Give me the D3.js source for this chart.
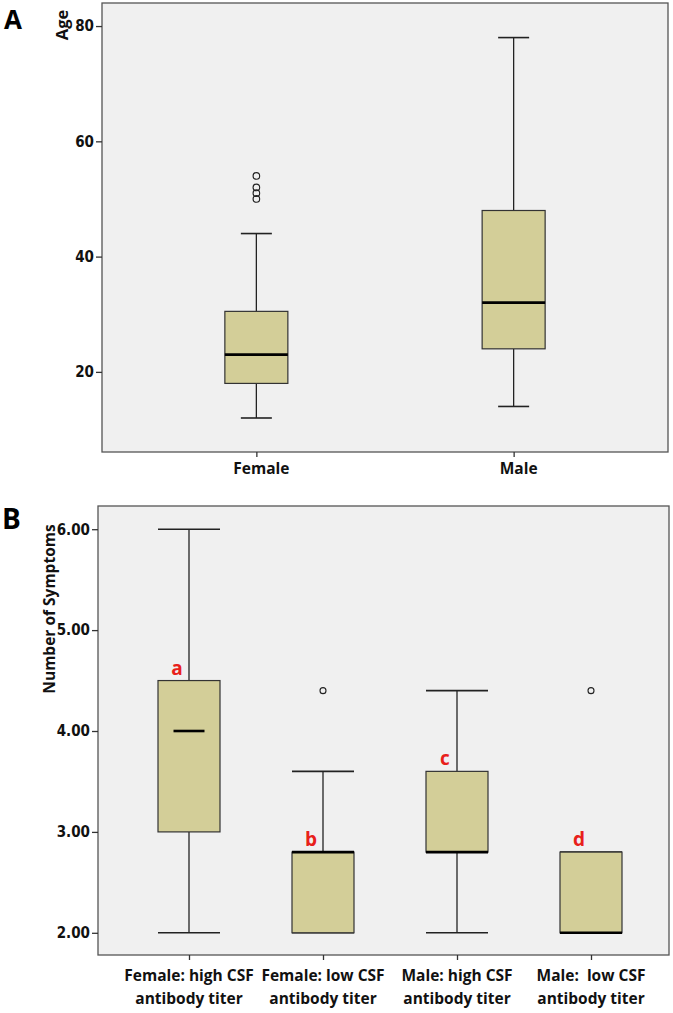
<!DOCTYPE html>
<html>
<head>
<meta charset="utf-8">
<script src="https://cdn.jsdelivr.net/npm/d3@7"></script>
<style>
  html, body { margin: 0; padding: 0; background: #fff; }
  svg { display: block; }
  .tick-label { font-family: 'Liberation Sans Narrow', 'Arial Narrow', 'DejaVu Sans Condensed', sans-serif; font-weight: bold; font-size: 15px; fill: #111; }
  .cat-label { font-family: 'Open Sans', 'Noto Sans', sans-serif; font-weight: bold; fill: #111; white-space: pre; }
</style>
</head>
<body>
<svg id="chart" width="673" height="1013"></svg>
<script>
// ---------- Data: Panel A (Age by sex) ----------
const ageGroups   = ["Female", "Male"];
const ageMin      = [12, 14];
const ageQ1       = [18, 24];
const ageMedian   = [23, 32];
const ageQ3       = [30.5, 48];
const ageMax      = [44, 78];
const ageOutliers = [[54, 52, 51, 50], []];
const ageTicks    = [20, 40, 60, 80];

// ---------- Data: Panel B (Number of symptoms) ----------
const symGroups    = ["Female high", "Female low", "Male high", "Male low"];
const symLabel1    = ["Female: high CSF", "Female: low CSF", "Male: high CSF", "Male:  low CSF"];
const symLabel2    = ["antibody titer", "antibody titer", "antibody titer", "antibody titer"];
const symMin       = [2, 2, 2, 2];
const symQ1        = [3, 2, 2.8, 2];
const symMedian    = [4, 2.8, 2.8, 2];
const symQ3        = [4.5, 2.8, 3.6, 2.8];
const symMax       = [6, 3.6, 4.4, 2.8];
const symOutliers  = [[], [4.4], [], [4.4]];
const symLetters   = ["a", "b", "c", "d"];
const symTicks     = [2, 3, 4, 5, 6];

const svg = d3.select("#chart");
const BG = "#f0f0f0", BOXFILL = "#d3ce98", FRAME = "#555";

function drawPanel(cfg) {
  const g = svg.append("g");
  const {x0, x1, y0, y1} = cfg;
  g.append("rect").attr("x", x0).attr("y", y0).attr("width", x1 - x0).attr("height", y1 - y0)
    .attr("fill", BG).attr("stroke", FRAME).attr("stroke-width", 1.3);

  const y = d3.scaleLinear().domain(cfg.yDomain).range([y1, y0]);
  const x = cfg.xScale;

  const yAxis = d3.axisLeft(y).tickValues(cfg.yTicks).tickSize(6).tickPadding(2).tickFormat(cfg.yFormat);
  const ya = g.append("g").attr("transform", `translate(${x0},0)`).call(yAxis);
  ya.select(".domain").remove();
  ya.selectAll(".tick line").attr("stroke", "#333").attr("stroke-width", 1.3);
  ya.selectAll(".tick text").attr("class", "tick-label").attr("font-size", null).attr("font-family", null).attr("fill", null);

  const xAxis = d3.axisBottom(x).tickSize(5).tickFormat("");
  const xa = g.append("g").attr("transform", `translate(0,${y1})`).call(xAxis);
  xa.select(".domain").remove();
  xa.selectAll(".tick line").attr("stroke", "#333").attr("stroke-width", 1.3);

  const n = cfg.groups.length;
  for (let i = 0; i < n; i++) {
    const cx = x(cfg.groups[i]);
    const bw = cfg.boxWidth, cw = cfg.capWidth;
    g.append("line").attr("x1", cx).attr("x2", cx).attr("y1", y(cfg.q3[i])).attr("y2", y(cfg.max[i]))
      .attr("stroke", "#222").attr("stroke-width", 1.3);
    g.append("line").attr("x1", cx).attr("x2", cx).attr("y1", y(cfg.q1[i])).attr("y2", y(cfg.min[i]))
      .attr("stroke", "#222").attr("stroke-width", 1.3);
    g.append("line").attr("x1", cx - cw / 2).attr("x2", cx + cw / 2).attr("y1", y(cfg.max[i])).attr("y2", y(cfg.max[i]))
      .attr("stroke", "#222").attr("stroke-width", 1.6);
    g.append("line").attr("x1", cx - cw / 2).attr("x2", cx + cw / 2).attr("y1", y(cfg.min[i])).attr("y2", y(cfg.min[i]))
      .attr("stroke", "#222").attr("stroke-width", 1.6);
    g.append("rect").attr("x", cx - bw / 2).attr("y", y(cfg.q3[i])).attr("width", bw)
      .attr("height", y(cfg.q1[i]) - y(cfg.q3[i]))
      .attr("fill", BOXFILL).attr("stroke", "#333").attr("stroke-width", 1.2);
    const mw = cfg.shortMedian && cfg.shortMedian(i) ? bw / 2 : bw;
    g.append("line").attr("x1", cx - mw / 2).attr("x2", cx + mw / 2)
      .attr("y1", y(cfg.median[i])).attr("y2", y(cfg.median[i]))
      .attr("stroke", "#000").attr("stroke-width", cfg.medianWidth);
    cfg.outliers[i].forEach(v => {
      g.append("circle").attr("cx", cx).attr("cy", y(v)).attr("r", cfg.outR)
        .attr("fill", "none").attr("stroke", "#222").attr("stroke-width", 1.1);
    });
  }
  return {g, x, y};
}

// ---------- Panel A ----------
const A = {x0: 102, x1: 668, y0: 3, y1: 452};
const xA = d3.scalePoint().domain(ageGroups).range([A.x0, A.x1]).padding(0.6);
const pA = drawPanel(Object.assign({}, A, {
  yDomain: [6.1, 84], yTicks: ageTicks, yFormat: d3.format("d"),
  xScale: xA, groups: ageGroups,
  min: ageMin, q1: ageQ1, median: ageMedian, q3: ageQ3, max: ageMax, outliers: ageOutliers,
  boxWidth: 63, capWidth: 31, medianWidth: 2.8, outR: 3.3
}));
ageGroups.forEach(gn => {
  pA.g.append("text").attr("class", "cat-label").attr("x", xA(gn) + 5).attr("y", 474)
    .attr("text-anchor", "middle").attr("font-size", 15.5).text(gn);
});
svg.append("text").attr("transform", "translate(68,25) rotate(-90)")
  .attr("text-anchor", "middle").attr("class", "cat-label").attr("font-size", 16.5).text("Age");
svg.append("text").attr("x", 4).attr("y", 29).attr("font-family", "'Open Sans', sans-serif")
  .attr("font-weight", "bold").attr("font-size", 26).attr("fill", "#000").text("A");

// ---------- Panel B ----------
const B = {x0: 98, x1: 669, y0: 506, y1: 955};
const xB = d3.scalePoint().domain(symGroups).range([B.x0 + 91, B.x1 - 78]);
const pB = drawPanel(Object.assign({}, B, {
  yDomain: [1.78, 6.23], yTicks: symTicks, yFormat: d3.format(".2f"),
  xScale: xB, groups: symGroups,
  min: symMin, q1: symQ1, median: symMedian, q3: symQ3, max: symMax, outliers: symOutliers,
  boxWidth: 62, capWidth: 62, medianWidth: 2.6, outR: 3,
  shortMedian: i => i === 0
}));
symGroups.forEach((gn, i) => {
  const t = pB.g.append("text").attr("class", "cat-label").attr("text-anchor", "middle").attr("font-size", 15.5);
  t.append("tspan").attr("x", xB(gn)).attr("y", 981).text(symLabel1[i]);
  t.append("tspan").attr("x", xB(gn)).attr("y", 1004).text(symLabel2[i]);
  pB.g.append("text").attr("x", xB(gn) - 12).attr("y", pB.y(symQ3[i]) - 6)
    .attr("text-anchor", "middle").attr("font-family", "'Open Sans', sans-serif")
    .attr("font-weight", "bold").attr("font-size", 19).attr("fill", "#e8201a").text(symLetters[i]);
});
svg.append("text").attr("transform", "translate(55,609) rotate(-90)")
  .attr("text-anchor", "middle").attr("class", "cat-label").attr("font-size", 15.5).text("Number of Symptoms");
svg.append("text").attr("x", 2).attr("y", 529).attr("font-family", "'Open Sans', sans-serif")
  .attr("font-weight", "bold").attr("font-size", 28).attr("fill", "#000").text("B");
</script>
</body>
</html>
